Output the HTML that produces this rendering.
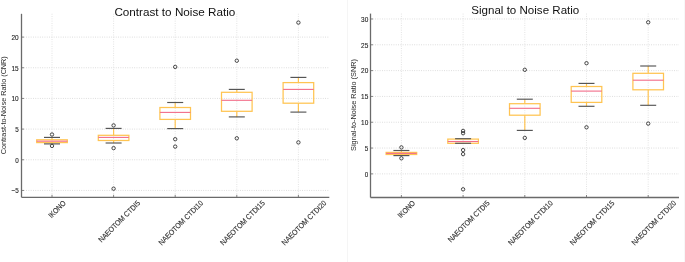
<!DOCTYPE html>
<html><head><meta charset="utf-8"><style>
html,body{margin:0;padding:0;background:#fff;}
body{width:685px;height:262px;overflow:hidden;}
svg{display:block;font-family:"Liberation Sans", sans-serif;will-change:transform;}
</style></head><body>
<svg width="685" height="262" viewBox="0 0 685 262">
<rect width="685" height="262" fill="#fff"/>
<line x1="347.5" y1="0" x2="347.5" y2="262" stroke="#f5f5f5" stroke-width="1"/>
<line x1="684.5" y1="0" x2="684.5" y2="262" stroke="#f7f7f7" stroke-width="1"/>
<line x1="21.5" y1="190.44" x2="329.3" y2="190.44" stroke="#d6d6d6" stroke-width="0.9" stroke-dasharray="0.9 1.4"/>
<line x1="21.5" y1="159.77" x2="329.3" y2="159.77" stroke="#d6d6d6" stroke-width="0.9" stroke-dasharray="0.9 1.4"/>
<line x1="21.5" y1="129.10" x2="329.3" y2="129.10" stroke="#d6d6d6" stroke-width="0.9" stroke-dasharray="0.9 1.4"/>
<line x1="21.5" y1="98.43" x2="329.3" y2="98.43" stroke="#d6d6d6" stroke-width="0.9" stroke-dasharray="0.9 1.4"/>
<line x1="21.5" y1="67.76" x2="329.3" y2="67.76" stroke="#d6d6d6" stroke-width="0.9" stroke-dasharray="0.9 1.4"/>
<line x1="21.5" y1="37.10" x2="329.3" y2="37.10" stroke="#d6d6d6" stroke-width="0.9" stroke-dasharray="0.9 1.4"/>
<line x1="52.00" y1="13.8" x2="52.00" y2="197.3" stroke="#dedede" stroke-width="0.9" stroke-dasharray="0.9 1.4"/>
<line x1="113.60" y1="13.8" x2="113.60" y2="197.3" stroke="#dedede" stroke-width="0.9" stroke-dasharray="0.9 1.4"/>
<line x1="175.20" y1="13.8" x2="175.20" y2="197.3" stroke="#dedede" stroke-width="0.9" stroke-dasharray="0.9 1.4"/>
<line x1="236.80" y1="13.8" x2="236.80" y2="197.3" stroke="#dedede" stroke-width="0.9" stroke-dasharray="0.9 1.4"/>
<line x1="298.40" y1="13.8" x2="298.40" y2="197.3" stroke="#dedede" stroke-width="0.9" stroke-dasharray="0.9 1.4"/>
<line x1="52.00" y1="137.40" x2="52.00" y2="139.80" stroke="#ffc452" stroke-width="1.2"/>
<line x1="52.00" y1="142.60" x2="52.00" y2="143.90" stroke="#ffc452" stroke-width="1.2"/>
<rect x="36.70" y="139.80" width="30.60" height="2.80" fill="none" stroke="#ffc452" stroke-width="1.25"/>
<line x1="44.00" y1="137.40" x2="60.00" y2="137.40" stroke="#555" stroke-width="1.15"/>
<line x1="44.00" y1="143.90" x2="60.00" y2="143.90" stroke="#555" stroke-width="1.15"/>
<line x1="36.70" y1="141.20" x2="67.30" y2="141.20" stroke="#f26c88" stroke-width="1.1"/>
<circle cx="52.00" cy="134.50" r="1.7" fill="none" stroke="#333" stroke-width="0.9"/>
<circle cx="52.00" cy="145.90" r="1.7" fill="none" stroke="#333" stroke-width="0.9"/>
<line x1="113.60" y1="128.40" x2="113.60" y2="135.30" stroke="#ffc452" stroke-width="1.2"/>
<line x1="113.60" y1="140.50" x2="113.60" y2="143.00" stroke="#ffc452" stroke-width="1.2"/>
<rect x="98.30" y="135.30" width="30.60" height="5.20" fill="none" stroke="#ffc452" stroke-width="1.25"/>
<line x1="105.60" y1="128.40" x2="121.60" y2="128.40" stroke="#555" stroke-width="1.15"/>
<line x1="105.60" y1="143.00" x2="121.60" y2="143.00" stroke="#555" stroke-width="1.15"/>
<line x1="98.30" y1="137.40" x2="128.90" y2="137.40" stroke="#f26c88" stroke-width="1.1"/>
<circle cx="113.60" cy="125.40" r="1.7" fill="none" stroke="#333" stroke-width="0.9"/>
<circle cx="113.60" cy="148.10" r="1.7" fill="none" stroke="#333" stroke-width="0.9"/>
<circle cx="113.60" cy="188.70" r="1.7" fill="none" stroke="#333" stroke-width="0.9"/>
<line x1="175.20" y1="102.50" x2="175.20" y2="107.50" stroke="#ffc452" stroke-width="1.2"/>
<line x1="175.20" y1="119.40" x2="175.20" y2="128.60" stroke="#ffc452" stroke-width="1.2"/>
<rect x="159.90" y="107.50" width="30.60" height="11.90" fill="none" stroke="#ffc452" stroke-width="1.25"/>
<line x1="167.20" y1="102.50" x2="183.20" y2="102.50" stroke="#555" stroke-width="1.15"/>
<line x1="167.20" y1="128.60" x2="183.20" y2="128.60" stroke="#555" stroke-width="1.15"/>
<line x1="159.90" y1="112.40" x2="190.50" y2="112.40" stroke="#f26c88" stroke-width="1.1"/>
<circle cx="175.20" cy="66.90" r="1.7" fill="none" stroke="#333" stroke-width="0.9"/>
<circle cx="175.20" cy="139.20" r="1.7" fill="none" stroke="#333" stroke-width="0.9"/>
<circle cx="175.20" cy="146.60" r="1.7" fill="none" stroke="#333" stroke-width="0.9"/>
<line x1="236.80" y1="89.40" x2="236.80" y2="92.30" stroke="#ffc452" stroke-width="1.2"/>
<line x1="236.80" y1="111.30" x2="236.80" y2="116.90" stroke="#ffc452" stroke-width="1.2"/>
<rect x="221.50" y="92.30" width="30.60" height="19.00" fill="none" stroke="#ffc452" stroke-width="1.25"/>
<line x1="228.80" y1="89.40" x2="244.80" y2="89.40" stroke="#555" stroke-width="1.15"/>
<line x1="228.80" y1="116.90" x2="244.80" y2="116.90" stroke="#555" stroke-width="1.15"/>
<line x1="221.50" y1="100.30" x2="252.10" y2="100.30" stroke="#f26c88" stroke-width="1.1"/>
<circle cx="236.80" cy="60.70" r="1.7" fill="none" stroke="#333" stroke-width="0.9"/>
<circle cx="236.80" cy="138.30" r="1.7" fill="none" stroke="#333" stroke-width="0.9"/>
<line x1="298.40" y1="77.40" x2="298.40" y2="82.60" stroke="#ffc452" stroke-width="1.2"/>
<line x1="298.40" y1="103.20" x2="298.40" y2="112.10" stroke="#ffc452" stroke-width="1.2"/>
<rect x="283.10" y="82.60" width="30.60" height="20.60" fill="none" stroke="#ffc452" stroke-width="1.25"/>
<line x1="290.40" y1="77.40" x2="306.40" y2="77.40" stroke="#555" stroke-width="1.15"/>
<line x1="290.40" y1="112.10" x2="306.40" y2="112.10" stroke="#555" stroke-width="1.15"/>
<line x1="283.10" y1="89.40" x2="313.70" y2="89.40" stroke="#f26c88" stroke-width="1.1"/>
<circle cx="298.40" cy="22.60" r="1.7" fill="none" stroke="#333" stroke-width="0.9"/>
<circle cx="298.40" cy="142.40" r="1.7" fill="none" stroke="#333" stroke-width="0.9"/>
<line x1="21.5" y1="190.44" x2="24.0" y2="190.44" stroke="#6a6a6a" stroke-width="0.8"/>
<line x1="21.5" y1="159.77" x2="24.0" y2="159.77" stroke="#6a6a6a" stroke-width="0.8"/>
<line x1="21.5" y1="129.10" x2="24.0" y2="129.10" stroke="#6a6a6a" stroke-width="0.8"/>
<line x1="21.5" y1="98.43" x2="24.0" y2="98.43" stroke="#6a6a6a" stroke-width="0.8"/>
<line x1="21.5" y1="67.76" x2="24.0" y2="67.76" stroke="#6a6a6a" stroke-width="0.8"/>
<line x1="21.5" y1="37.10" x2="24.0" y2="37.10" stroke="#6a6a6a" stroke-width="0.8"/>
<line x1="52.00" y1="197.3" x2="52.00" y2="194.8" stroke="#6a6a6a" stroke-width="0.8"/>
<line x1="113.60" y1="197.3" x2="113.60" y2="194.8" stroke="#6a6a6a" stroke-width="0.8"/>
<line x1="175.20" y1="197.3" x2="175.20" y2="194.8" stroke="#6a6a6a" stroke-width="0.8"/>
<line x1="236.80" y1="197.3" x2="236.80" y2="194.8" stroke="#6a6a6a" stroke-width="0.8"/>
<line x1="298.40" y1="197.3" x2="298.40" y2="194.8" stroke="#6a6a6a" stroke-width="0.8"/>
<line x1="21.5" y1="13.8" x2="21.5" y2="197.3" stroke="#6a6a6a" stroke-width="1.3"/>
<line x1="21.5" y1="197.3" x2="329.3" y2="197.3" stroke="#6a6a6a" stroke-width="1.3"/>
<text x="18.70" y="193.24" font-size="7.8" text-anchor="end" fill="#222" stroke="#222" stroke-width="0.12" textLength="7.2" lengthAdjust="spacingAndGlyphs">−5</text>
<text x="18.70" y="162.57" font-size="7.8" text-anchor="end" fill="#222" stroke="#222" stroke-width="0.12" textLength="3.5" lengthAdjust="spacingAndGlyphs">0</text>
<text x="18.70" y="131.90" font-size="7.8" text-anchor="end" fill="#222" stroke="#222" stroke-width="0.12" textLength="3.5" lengthAdjust="spacingAndGlyphs">5</text>
<text x="18.70" y="101.23" font-size="7.8" text-anchor="end" fill="#222" stroke="#222" stroke-width="0.12" textLength="7.2" lengthAdjust="spacingAndGlyphs">10</text>
<text x="18.70" y="70.56" font-size="7.8" text-anchor="end" fill="#222" stroke="#222" stroke-width="0.12" textLength="7.2" lengthAdjust="spacingAndGlyphs">15</text>
<text x="18.70" y="39.90" font-size="7.8" text-anchor="end" fill="#222" stroke="#222" stroke-width="0.12" textLength="7.2" lengthAdjust="spacingAndGlyphs">20</text>
<text x="114.4" y="15.8" font-size="11.4" fill="#111" textLength="121" lengthAdjust="spacingAndGlyphs">Contrast to Noise Ratio</text>
<text transform="translate(5.9,105.3) rotate(-90)" font-size="7.3" text-anchor="middle" fill="#2a2a2a" textLength="98" lengthAdjust="spacingAndGlyphs">Contrast-to-Noise Ratio (CNR)</text>
<text transform="translate(66.30,203.70) rotate(-45)" font-size="7.6" text-anchor="end" fill="#333" stroke="#333" stroke-width="0.15" textLength="21.1" lengthAdjust="spacingAndGlyphs">IKONO</text>
<text transform="translate(140.60,203.70) rotate(-45)" font-size="7.6" text-anchor="end" fill="#333" stroke="#333" stroke-width="0.15" textLength="55.4" lengthAdjust="spacingAndGlyphs">NAEOTOM CTDI5</text>
<text transform="translate(203.70,203.70) rotate(-45)" font-size="7.6" text-anchor="end" fill="#333" stroke="#333" stroke-width="0.15" textLength="59.5" lengthAdjust="spacingAndGlyphs">NAEOTOM CTDI10</text>
<text transform="translate(265.30,203.70) rotate(-45)" font-size="7.6" text-anchor="end" fill="#333" stroke="#333" stroke-width="0.15" textLength="59.5" lengthAdjust="spacingAndGlyphs">NAEOTOM CTDI15</text>
<text transform="translate(326.90,203.70) rotate(-45)" font-size="7.6" text-anchor="end" fill="#333" stroke="#333" stroke-width="0.15" textLength="59.5" lengthAdjust="spacingAndGlyphs">NAEOTOM CTDI20</text>
<line x1="370.5" y1="173.88" x2="679.0" y2="173.88" stroke="#d6d6d6" stroke-width="0.9" stroke-dasharray="0.9 1.4"/>
<line x1="370.5" y1="148.06" x2="679.0" y2="148.06" stroke="#d6d6d6" stroke-width="0.9" stroke-dasharray="0.9 1.4"/>
<line x1="370.5" y1="122.24" x2="679.0" y2="122.24" stroke="#d6d6d6" stroke-width="0.9" stroke-dasharray="0.9 1.4"/>
<line x1="370.5" y1="96.43" x2="679.0" y2="96.43" stroke="#d6d6d6" stroke-width="0.9" stroke-dasharray="0.9 1.4"/>
<line x1="370.5" y1="70.61" x2="679.0" y2="70.61" stroke="#d6d6d6" stroke-width="0.9" stroke-dasharray="0.9 1.4"/>
<line x1="370.5" y1="44.79" x2="679.0" y2="44.79" stroke="#d6d6d6" stroke-width="0.9" stroke-dasharray="0.9 1.4"/>
<line x1="370.5" y1="18.97" x2="679.0" y2="18.97" stroke="#d6d6d6" stroke-width="0.9" stroke-dasharray="0.9 1.4"/>
<line x1="401.40" y1="13.6" x2="401.40" y2="197.5" stroke="#dedede" stroke-width="0.9" stroke-dasharray="0.9 1.4"/>
<line x1="463.10" y1="13.6" x2="463.10" y2="197.5" stroke="#dedede" stroke-width="0.9" stroke-dasharray="0.9 1.4"/>
<line x1="524.80" y1="13.6" x2="524.80" y2="197.5" stroke="#dedede" stroke-width="0.9" stroke-dasharray="0.9 1.4"/>
<line x1="586.50" y1="13.6" x2="586.50" y2="197.5" stroke="#dedede" stroke-width="0.9" stroke-dasharray="0.9 1.4"/>
<line x1="648.20" y1="13.6" x2="648.20" y2="197.5" stroke="#dedede" stroke-width="0.9" stroke-dasharray="0.9 1.4"/>
<line x1="401.40" y1="150.50" x2="401.40" y2="152.40" stroke="#ffc452" stroke-width="1.2"/>
<line x1="401.40" y1="154.50" x2="401.40" y2="155.60" stroke="#ffc452" stroke-width="1.2"/>
<rect x="386.10" y="152.40" width="30.60" height="2.10" fill="none" stroke="#ffc452" stroke-width="1.25"/>
<line x1="393.40" y1="150.50" x2="409.40" y2="150.50" stroke="#555" stroke-width="1.15"/>
<line x1="393.40" y1="155.60" x2="409.40" y2="155.60" stroke="#555" stroke-width="1.15"/>
<line x1="386.10" y1="153.40" x2="416.70" y2="153.40" stroke="#f26c88" stroke-width="1.1"/>
<circle cx="401.40" cy="147.40" r="1.7" fill="none" stroke="#333" stroke-width="0.9"/>
<circle cx="401.40" cy="158.30" r="1.7" fill="none" stroke="#333" stroke-width="0.9"/>
<line x1="463.10" y1="138.70" x2="463.10" y2="139.10" stroke="#ffc452" stroke-width="1.2"/>
<line x1="463.10" y1="143.30" x2="463.10" y2="143.30" stroke="#ffc452" stroke-width="1.2"/>
<rect x="447.80" y="139.10" width="30.60" height="4.20" fill="none" stroke="#ffc452" stroke-width="1.25"/>
<line x1="455.10" y1="138.70" x2="471.10" y2="138.70" stroke="#555" stroke-width="1.15"/>
<line x1="455.10" y1="143.30" x2="471.10" y2="143.30" stroke="#555" stroke-width="1.15"/>
<line x1="447.80" y1="141.50" x2="478.40" y2="141.50" stroke="#f26c88" stroke-width="1.1"/>
<circle cx="463.10" cy="130.90" r="1.7" fill="none" stroke="#333" stroke-width="0.9"/>
<circle cx="463.10" cy="133.20" r="1.7" fill="none" stroke="#333" stroke-width="0.9"/>
<circle cx="463.10" cy="150.10" r="1.7" fill="none" stroke="#333" stroke-width="0.9"/>
<circle cx="463.10" cy="154.10" r="1.7" fill="none" stroke="#333" stroke-width="0.9"/>
<circle cx="463.10" cy="189.30" r="1.7" fill="none" stroke="#333" stroke-width="0.9"/>
<line x1="524.80" y1="99.20" x2="524.80" y2="103.70" stroke="#ffc452" stroke-width="1.2"/>
<line x1="524.80" y1="115.20" x2="524.80" y2="130.40" stroke="#ffc452" stroke-width="1.2"/>
<rect x="509.50" y="103.70" width="30.60" height="11.50" fill="none" stroke="#ffc452" stroke-width="1.25"/>
<line x1="516.80" y1="99.20" x2="532.80" y2="99.20" stroke="#555" stroke-width="1.15"/>
<line x1="516.80" y1="130.40" x2="532.80" y2="130.40" stroke="#555" stroke-width="1.15"/>
<line x1="509.50" y1="108.30" x2="540.10" y2="108.30" stroke="#f26c88" stroke-width="1.1"/>
<circle cx="524.80" cy="69.80" r="1.7" fill="none" stroke="#333" stroke-width="0.9"/>
<circle cx="524.80" cy="137.90" r="1.7" fill="none" stroke="#333" stroke-width="0.9"/>
<line x1="586.50" y1="83.40" x2="586.50" y2="86.50" stroke="#ffc452" stroke-width="1.2"/>
<line x1="586.50" y1="102.40" x2="586.50" y2="106.30" stroke="#ffc452" stroke-width="1.2"/>
<rect x="571.20" y="86.50" width="30.60" height="15.90" fill="none" stroke="#ffc452" stroke-width="1.25"/>
<line x1="578.50" y1="83.40" x2="594.50" y2="83.40" stroke="#555" stroke-width="1.15"/>
<line x1="578.50" y1="106.30" x2="594.50" y2="106.30" stroke="#555" stroke-width="1.15"/>
<line x1="571.20" y1="91.10" x2="601.80" y2="91.10" stroke="#f26c88" stroke-width="1.1"/>
<circle cx="586.50" cy="63.20" r="1.7" fill="none" stroke="#333" stroke-width="0.9"/>
<circle cx="586.50" cy="127.30" r="1.7" fill="none" stroke="#333" stroke-width="0.9"/>
<line x1="648.20" y1="66.00" x2="648.20" y2="73.30" stroke="#ffc452" stroke-width="1.2"/>
<line x1="648.20" y1="89.80" x2="648.20" y2="105.30" stroke="#ffc452" stroke-width="1.2"/>
<rect x="632.90" y="73.30" width="30.60" height="16.50" fill="none" stroke="#ffc452" stroke-width="1.25"/>
<line x1="640.20" y1="66.00" x2="656.20" y2="66.00" stroke="#555" stroke-width="1.15"/>
<line x1="640.20" y1="105.30" x2="656.20" y2="105.30" stroke="#555" stroke-width="1.15"/>
<line x1="632.90" y1="80.20" x2="663.50" y2="80.20" stroke="#f26c88" stroke-width="1.1"/>
<circle cx="648.20" cy="22.30" r="1.7" fill="none" stroke="#333" stroke-width="0.9"/>
<circle cx="648.20" cy="123.60" r="1.7" fill="none" stroke="#333" stroke-width="0.9"/>
<line x1="370.5" y1="173.88" x2="373.0" y2="173.88" stroke="#6a6a6a" stroke-width="0.8"/>
<line x1="370.5" y1="148.06" x2="373.0" y2="148.06" stroke="#6a6a6a" stroke-width="0.8"/>
<line x1="370.5" y1="122.24" x2="373.0" y2="122.24" stroke="#6a6a6a" stroke-width="0.8"/>
<line x1="370.5" y1="96.43" x2="373.0" y2="96.43" stroke="#6a6a6a" stroke-width="0.8"/>
<line x1="370.5" y1="70.61" x2="373.0" y2="70.61" stroke="#6a6a6a" stroke-width="0.8"/>
<line x1="370.5" y1="44.79" x2="373.0" y2="44.79" stroke="#6a6a6a" stroke-width="0.8"/>
<line x1="370.5" y1="18.97" x2="373.0" y2="18.97" stroke="#6a6a6a" stroke-width="0.8"/>
<line x1="401.40" y1="197.5" x2="401.40" y2="195.0" stroke="#6a6a6a" stroke-width="0.8"/>
<line x1="463.10" y1="197.5" x2="463.10" y2="195.0" stroke="#6a6a6a" stroke-width="0.8"/>
<line x1="524.80" y1="197.5" x2="524.80" y2="195.0" stroke="#6a6a6a" stroke-width="0.8"/>
<line x1="586.50" y1="197.5" x2="586.50" y2="195.0" stroke="#6a6a6a" stroke-width="0.8"/>
<line x1="648.20" y1="197.5" x2="648.20" y2="195.0" stroke="#6a6a6a" stroke-width="0.8"/>
<line x1="370.5" y1="13.6" x2="370.5" y2="197.5" stroke="#6a6a6a" stroke-width="1.3"/>
<line x1="370.5" y1="197.5" x2="679.0" y2="197.5" stroke="#6a6a6a" stroke-width="1.3"/>
<text x="368.30" y="176.68" font-size="7.8" text-anchor="end" fill="#222" stroke="#222" stroke-width="0.12" textLength="3.5" lengthAdjust="spacingAndGlyphs">0</text>
<text x="368.30" y="150.86" font-size="7.8" text-anchor="end" fill="#222" stroke="#222" stroke-width="0.12" textLength="3.5" lengthAdjust="spacingAndGlyphs">5</text>
<text x="368.30" y="125.04" font-size="7.8" text-anchor="end" fill="#222" stroke="#222" stroke-width="0.12" textLength="7.2" lengthAdjust="spacingAndGlyphs">10</text>
<text x="368.30" y="99.23" font-size="7.8" text-anchor="end" fill="#222" stroke="#222" stroke-width="0.12" textLength="7.2" lengthAdjust="spacingAndGlyphs">15</text>
<text x="368.30" y="73.41" font-size="7.8" text-anchor="end" fill="#222" stroke="#222" stroke-width="0.12" textLength="7.2" lengthAdjust="spacingAndGlyphs">20</text>
<text x="368.30" y="47.59" font-size="7.8" text-anchor="end" fill="#222" stroke="#222" stroke-width="0.12" textLength="7.2" lengthAdjust="spacingAndGlyphs">25</text>
<text x="368.30" y="21.77" font-size="7.8" text-anchor="end" fill="#222" stroke="#222" stroke-width="0.12" textLength="7.2" lengthAdjust="spacingAndGlyphs">30</text>
<text x="471.3" y="14.4" font-size="11.4" fill="#111" textLength="108" lengthAdjust="spacingAndGlyphs">Signal to Noise Ratio</text>
<text transform="translate(356.2,105.0) rotate(-90)" font-size="7.3" text-anchor="middle" fill="#2a2a2a" textLength="92" lengthAdjust="spacingAndGlyphs">Signal-to-Noise Ratio (SNR)</text>
<text transform="translate(415.70,203.70) rotate(-45)" font-size="7.6" text-anchor="end" fill="#333" stroke="#333" stroke-width="0.15" textLength="21.1" lengthAdjust="spacingAndGlyphs">IKONO</text>
<text transform="translate(490.10,203.70) rotate(-45)" font-size="7.6" text-anchor="end" fill="#333" stroke="#333" stroke-width="0.15" textLength="55.4" lengthAdjust="spacingAndGlyphs">NAEOTOM CTDI5</text>
<text transform="translate(553.30,203.70) rotate(-45)" font-size="7.6" text-anchor="end" fill="#333" stroke="#333" stroke-width="0.15" textLength="59.5" lengthAdjust="spacingAndGlyphs">NAEOTOM CTDI10</text>
<text transform="translate(615.00,203.70) rotate(-45)" font-size="7.6" text-anchor="end" fill="#333" stroke="#333" stroke-width="0.15" textLength="59.5" lengthAdjust="spacingAndGlyphs">NAEOTOM CTDI15</text>
<text transform="translate(676.70,203.70) rotate(-45)" font-size="7.6" text-anchor="end" fill="#333" stroke="#333" stroke-width="0.15" textLength="59.5" lengthAdjust="spacingAndGlyphs">NAEOTOM CTDI20</text>
</svg>
</body></html>
